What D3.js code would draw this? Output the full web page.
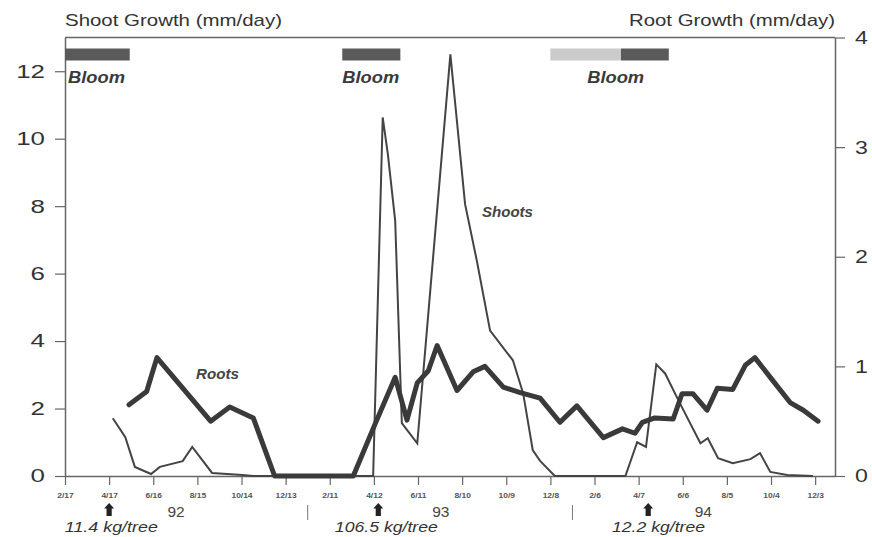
<!DOCTYPE html>
<html><head><meta charset="utf-8">
<script src="https://cdn.jsdelivr.net/npm/d3@7"></script>
<style>
body{margin:0;background:#fff;}
svg{display:block;font-family:"Liberation Sans",Arial,Helvetica,sans-serif;}
</style>
</head><body><svg id="c" width="872" height="537"></svg>
<script>
// ---------- data ----------
const tickDates = ["1992-02-17","1992-04-17","1992-06-16","1992-08-15","1992-10-14","1992-12-13",
  "1993-02-11","1993-04-12","1993-06-11","1993-08-10","1993-10-09","1993-12-08",
  "1994-02-06","1994-04-07","1994-06-06","1994-08-05","1994-10-04","1994-12-03"];
const tickLabels = ["2/17","4/17","6/16","8/15","10/14","12/13","2/11","4/12","6/11","8/10","10/9","12/8",
  "2/6","4/7","6/6","8/5","10/4","12/3"];
const leftTicks = [0,2,4,6,8,10,12];
const rightTicks = [0,1,2,3,4];

const shootDates = ["1992-04-22","1992-05-09","1992-05-22","1992-06-13","1992-06-25","1992-07-26","1992-08-08",
  "1992-09-04","1992-10-15","1992-10-30","1993-04-11","1993-04-24","1993-05-01","1993-05-11","1993-05-20",
  "1993-06-10","1993-07-25","1993-08-14","1993-08-30","1993-09-17","1993-10-18","1993-11-01","1993-11-14",
  "1993-11-24","1993-12-14","1994-03-20","1994-04-05","1994-04-17","1994-05-01","1994-05-13","1994-06-02",
  "1994-06-30","1994-07-10","1994-07-24","1994-08-13","1994-09-06","1994-09-19","1994-10-03","1994-10-26","1994-11-30"];
const shootValues = [1.71,1.15,0.27,0.06,0.27,0.44,0.86,
  0.09,0.03,0,0,10.63,9.54,7.56,1.57,
  0.97,12.5,8.06,6.38,4.31,3.43,2.45,0.77,
  0.45,0,0,1.0,0.86,3.31,3.04,2.16,
  0.97,1.12,0.53,0.38,0.5,0.68,0.12,0.03,0];

const rootDates = ["1992-05-14","1992-06-07","1992-06-21","1992-09-02","1992-09-28","1992-10-30","1992-11-28",
  "1993-03-15","1993-04-14","1993-05-11","1993-05-27","1993-06-10","1993-06-25","1993-07-07","1993-08-03",
  "1993-08-25","1993-09-10","1993-10-05","1993-10-28","1993-11-24","1993-12-21","1994-01-13","1994-02-18",
  "1994-03-16","1994-04-02","1994-04-12","1994-04-29","1994-05-24","1994-06-05","1994-06-20","1994-07-09",
  "1994-07-23","1994-08-13","1994-08-30","1994-09-12","1994-10-03","1994-10-30","1994-11-17","1994-12-07"];
const rootValues = [0.65,0.77,1.08,0.5,0.63,0.53,0,
  0,0.48,0.9,0.51,0.85,0.96,1.19,0.78,
  0.95,1.0,0.81,0.76,0.71,0.49,0.64,0.35,
  0.43,0.39,0.49,0.53,0.52,0.75,0.75,0.6,
  0.8,0.79,1.01,1.08,0.9,0.67,0.6,0.5];

const bloomStarts = ["1992-02-17","1993-02-28","1993-12-08","1994-03-14"];
const bloomEnds   = ["1992-05-15","1993-05-18","1994-03-14","1994-05-18"];
const bloomShades = ["dark","dark","light","dark"];
const bloomLabelDates = ["1992-02-21","1993-02-28","1994-01-27"];
const arrowDates = ["1992-04-17","1993-04-18","1994-04-20"];
const yearLabels = ["92","93","94"];
const yearLabelDates = ["1992-07-17","1993-07-12","1994-07-04"];
const yieldLabels = ["11.4 kg/tree","106.5 kg/tree","12.2 kg/tree"];
const yieldLabelDates = ["1992-04-20","1993-04-29","1994-05-04"];
const separatorDates = ["1993-01-12","1994-01-07"];

// ---------- setup ----------
const parse = d3.utcParse("%Y-%m-%d");
const svg = d3.select("#c");
const x = d3.scaleUtc().domain([parse("1992-02-17"), parse("1994-12-30")]).range([65, 835]);
const yL = d3.scaleLinear().domain([0, 13]).range([476, 37.5]);
const yR = d3.scaleLinear().domain([0, 4]).range([476, 37.5]);
const axisColor = "#666";

function stretch(sel, f) {
  sel.each(function(){
    const w = this.getComputedTextLength();
    d3.select(this).attr("textLength", w * f).attr("lengthAdjust", "spacingAndGlyphs");
  });
}
function stretchTo(sel, w) {
  sel.attr("textLength", w).attr("lengthAdjust", "spacingAndGlyphs");
}

// top border
svg.append("line").attr("x1", x.range()[0]).attr("x2", x.range()[1])
  .attr("y1", yL(13)).attr("y2", yL(13)).attr("stroke", axisColor).attr("stroke-width", 1.5);

// left axis
const gL = svg.append("g").attr("transform", "translate(65,0)")
  .call(d3.axisLeft(yL).tickValues(leftTicks).tickFormat(d3.format("d")).tickSize(10).tickSizeOuter(0).tickPadding(10));
gL.select(".domain").attr("stroke", axisColor).attr("stroke-width", 1.5);
gL.selectAll(".tick line").attr("stroke", axisColor).attr("stroke-width", 1.2);
gL.selectAll(".tick text").attr("font-size", 18.5).attr("fill", "#333")
  .attr("font-family", "Liberation Sans, Arial, sans-serif").call(stretch, 1.4);

// right axis
const gR = svg.append("g").attr("transform", "translate(835,0)")
  .call(d3.axisRight(yR).tickValues(rightTicks).tickFormat(d3.format("d")).tickSize(10).tickSizeOuter(0).tickPadding(10));
gR.select(".domain").attr("stroke", axisColor).attr("stroke-width", 1.5);
gR.selectAll(".tick line").attr("stroke", axisColor).attr("stroke-width", 1.2);
gR.selectAll(".tick text").attr("font-size", 18.5).attr("fill", "#333")
  .attr("font-family", "Liberation Sans, Arial, sans-serif").call(stretch, 1.25);

// bottom axis
const gB = svg.append("g").attr("transform", `translate(0,${yL(0)})`)
  .call(d3.axisBottom(x).tickValues(tickDates.map(parse)).tickFormat((d, i) => tickLabels[i])
    .tickSize(9).tickSizeOuter(0).tickPadding(8));
gB.select(".domain").attr("stroke", axisColor).attr("stroke-width", 1.5);
gB.selectAll(".tick line").attr("stroke", axisColor).attr("stroke-width", 1.2);
gB.selectAll(".tick text").attr("font-size", 6.5).attr("font-weight", "bold").attr("fill", "#555")
  .attr("font-family", "Liberation Sans, Arial, sans-serif").call(stretch, 1.3);

// titles
stretchTo(svg.append("text").attr("x", 65).attr("y", 26).attr("font-size", 17).attr("fill", "#333")
  .text("Shoot Growth (mm/day)"), 217);
stretchTo(svg.append("text").attr("x", 835).attr("y", 26).attr("text-anchor", "end").attr("font-size", 17).attr("fill", "#333")
  .text("Root Growth (mm/day)"), 206);

// bloom bars
svg.append("g").selectAll("rect").data(bloomStarts).join("rect")
  .attr("x", (d) => x(parse(d)))
  .attr("width", (d, i) => x(parse(bloomEnds[i])) - x(parse(d)))
  .attr("y", 48.5).attr("height", 12)
  .attr("fill", (d, i) => bloomShades[i] === "dark" ? "#5a5a5a" : "#cbcbcb");
svg.append("g").selectAll("text").data(bloomLabelDates).join("text")
  .attr("x", (d) => x(parse(d))).attr("y", 83)
  .attr("font-size", 16).attr("font-weight", "bold").attr("font-style", "italic").attr("fill", "#3a3a3a")
  .text("Bloom").call(stretchTo, 57);

// lines
const shoots = shootDates.map((d, i) => [parse(d), shootValues[i]]);
const roots = rootDates.map((d, i) => [parse(d), rootValues[i]]);
svg.append("path").datum(shoots)
  .attr("d", d3.line().x((d) => x(d[0])).y((d) => yL(d[1])))
  .attr("fill", "none").attr("stroke", "#444").attr("stroke-width", 2).attr("stroke-linejoin", "miter");
svg.append("path").datum(roots)
  .attr("d", d3.line().x((d) => x(d[0])).y((d) => yR(d[1])))
  .attr("fill", "none").attr("stroke", "#3a3a3a").attr("stroke-width", 5)
  .attr("stroke-linejoin", "round").attr("stroke-linecap", "round");

// series labels
stretchTo(svg.append("text").attr("x", 196).attr("y", 379).attr("font-size", 14).attr("font-weight", "bold")
  .attr("font-style", "italic").attr("fill", "#444").text("Roots"), 43);
stretchTo(svg.append("text").attr("x", 482).attr("y", 217).attr("font-size", 14).attr("font-weight", "bold")
  .attr("font-style", "italic").attr("fill", "#444").text("Shoots"), 51);

// arrows
svg.append("g").selectAll("path").data(arrowDates).join("path")
  .attr("d", (d) => {
    const cx = x(parse(d));
    return `M${cx},503 L${cx+5},508.5 L${cx+2.6},508.5 L${cx+2.6},516 L${cx-2.6},516 L${cx-2.6},508.5 L${cx-5},508.5 Z`;
  }).attr("fill", "#222");

// year labels
svg.append("g").selectAll("text").data(yearLabels).join("text")
  .attr("x", (d, i) => x(parse(yearLabelDates[i]))).attr("y", 517)
  .attr("text-anchor", "middle").attr("font-size", 15.5).attr("fill", "#444").text((d) => d);

// yield labels
svg.append("g").selectAll("text").data(yieldLabels).join("text")
  .attr("x", (d, i) => x(parse(yieldLabelDates[i]))).attr("y", 532)
  .attr("text-anchor", "middle").attr("font-size", 15).attr("font-style", "italic").attr("fill", "#333")
  .text((d) => d)
  .attr("textLength", (d, i) => i === 1 ? 103 : 93).attr("lengthAdjust", "spacingAndGlyphs");

// separators
svg.append("g").selectAll("line").data(separatorDates).join("line")
  .attr("x1", (d) => x(parse(d))).attr("x2", (d) => x(parse(d)))
  .attr("y1", 505).attr("y2", 520).attr("stroke", "#777").attr("stroke-width", 1);
</script>
</body></html>
